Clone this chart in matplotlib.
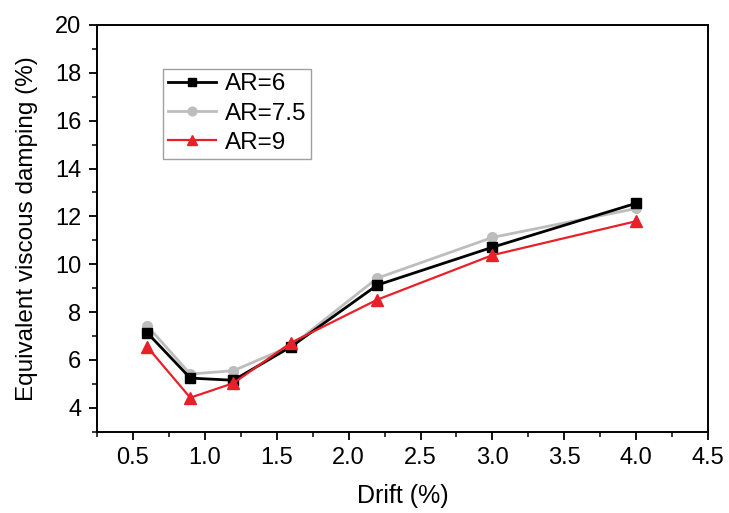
import matplotlib
matplotlib.use("Agg")
import matplotlib.pyplot as plt
from matplotlib.ticker import MultipleLocator

plt.rcParams['font.family'] = ['Liberation Sans', 'DejaVu Sans']

drift = [0.6, 0.9, 1.2, 1.6, 2.2, 3.0, 4.0]
damping_ar6 = [7.14, 5.24, 5.15, 6.55, 9.13, 10.71, 12.55]
damping_ar75 = [7.43, 5.41, 5.55, 6.58, 9.42, 11.12, 12.33]
damping_ar9 = [6.55, 4.42, 5.03, 6.72, 8.52, 10.38, 11.80]

series_labels = ['AR=6', 'AR=7.5', 'AR=9']
x_ticks = [0.5, 1.0, 1.5, 2.0, 2.5, 3.0, 3.5, 4.0, 4.5]
x_tick_labels = ['0.5', '1.0', '1.5', '2.0', '2.5', '3.0', '3.5', '4.0', '4.5']

fig = plt.figure(figsize=(7.29, 5.13), dpi=100)
ax = fig.add_axes([0.1327, 0.1585, 0.8389, 0.7928])

ax.plot(drift, damping_ar6, color='black', lw=2.0, marker='s', ms=6.5,
        label=series_labels[0], zorder=3)
ax.plot(drift, damping_ar75, color='#bdbdbd', lw=2.0, marker='o', ms=7,
        label=series_labels[1], zorder=2)
ax.plot(drift, damping_ar9, color='#e8202a', lw=1.6, marker='^', ms=8,
        label=series_labels[2], zorder=4)

ax.set_xlim(0.25, 4.5)
ax.set_ylim(3, 20)
ax.xaxis.set_minor_locator(MultipleLocator(0.25))
ax.yaxis.set_major_locator(MultipleLocator(2))
ax.yaxis.set_minor_locator(MultipleLocator(1))
ax.set_xticks(x_ticks)
ax.set_xticklabels(x_tick_labels)

ax.tick_params(which='major', direction='out', length=6, width=1.3,
               labelsize=17, pad=5, top=False, right=False)
ax.tick_params(which='minor', direction='out', length=3.5, width=1.1,
               top=False, right=False)
for sp in ax.spines.values():
    sp.set_linewidth(1.4)

ax.set_xlabel('Drift (%)', fontsize=18, labelpad=11)
ax.set_ylabel('Equivalent viscous damping (%)', fontsize=17.5, labelpad=12)

leg = ax.legend(loc='upper left', bbox_to_anchor=(0.108, 0.893), fontsize=17.5,
                frameon=True, fancybox=False, edgecolor='#888888',
                handlelength=2.0, handletextpad=0.35, borderpad=0.2,
                borderaxespad=0, labelspacing=0.3, markerscale=0.9)
leg.get_frame().set_linewidth(1.0)

fig.savefig('out.png', dpi=100)
